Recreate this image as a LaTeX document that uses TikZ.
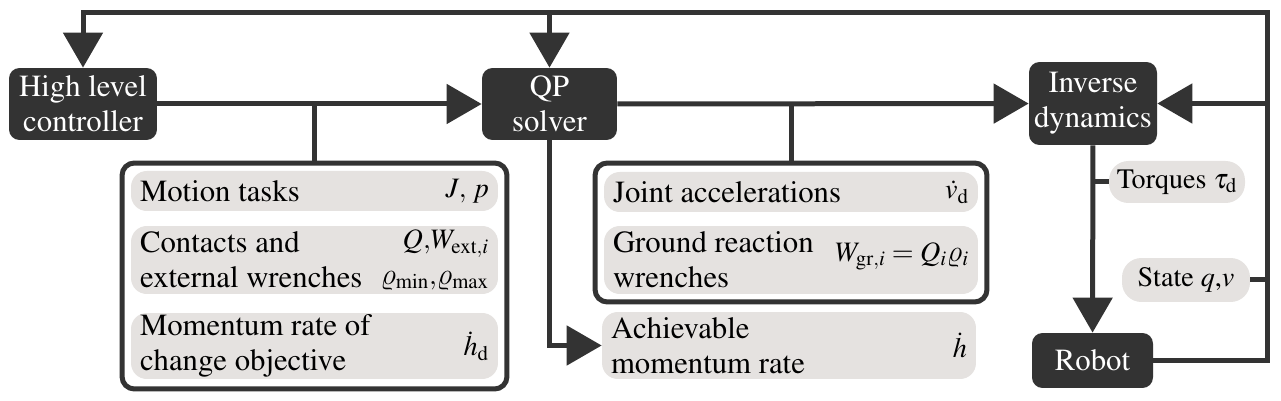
\documentclass[tikz,border=0pt]{standalone}
\usepackage{amsmath}
\usepackage[T1]{fontenc}
\usepackage{mathptmx}
\DeclareSymbolFont{cmletters}{OML}{cmm}{m}{it}
\DeclareMathSymbol{\curlyrho}{\mathord}{cmletters}{"25}
\usetikzlibrary{positioning, arrows.meta, calc}
\definecolor{colour_dark}{HTML}{333333}
\definecolor{colour_pill}{HTML}{E5E2E0}

\begin{document}
\begin{tikzpicture}[
    x=0.02cm, y=-0.02cm,
    font=\fontsize{17.5}{20}\selectfont,
    block/.style={rectangle, fill=colour_dark, rounded corners=6pt,
                  text=white, align=center, inner sep=0pt},
    group/.style={rectangle, draw=colour_dark, line width=0.1cm, fill=white,
                  rounded corners=7pt, inner sep=0pt},
    pill/.style={rectangle, fill=colour_pill, rounded corners=9pt, inner sep=0pt},
    signal/.style={pill, rounded corners=11pt, font=\fontsize{16}{20}\selectfont},
    label/.style={anchor=west, align=left, inner sep=0pt},
    value/.style={anchor=east, align=right, inner sep=0pt,
                  font=\fontsize{16}{20}\selectfont},
    line/.style={colour_dark, line width=0.1cm},
    arrow/.style={line, -{Triangle[length=0.7cm, width=0.78cm]}}
]
\useasboundingbox (0,0) rectangle (1281,401);

% Main blocks
\node[block, minimum width=2.96cm, minimum height=1.44cm] (hlc) at (83,104) {High level\\controller};
\node[block, minimum width=2.7cm, minimum height=1.44cm] (qp) at (549.5,104) {QP\\solver};
\node[block, minimum width=2.56cm, minimum height=1.66cm] (id) at (1093,103.5) {Inverse\\dynamics};
\node[block, minimum width=2.42cm, minimum height=1.1cm] (robot) at (1092.5,360.5) {Robot};

% Inputs of the QP
\node[group, minimum width=7.7cm, minimum height=4.52cm] (tasks) at (314.5,276) {};
\node[pill, minimum width=7.34cm, minimum height=0.8cm] (motion) at (314.5,191) {};
\node[label] (motion_txt) at ($(motion.west)+(9,0)$) {Motion tasks};
\node[value] (motion_val) at ($(motion.east)+(-9,0)$) {$J,\,p$};
\node[pill, minimum width=7.34cm, minimum height=1.36cm] (contacts) at (314.5,260) {};
\node[label] (contacts_txt) at ($(contacts.west)+(9,0)$) {Contacts and\\external wrenches};
\node[value] (contacts_val) at ($(contacts.east)+(-9,0)$) {$Q{,}W_{\mathrm{ext},i}$\\$\curlyrho_{\min}{,}\curlyrho_{\max}$};
\node[pill, minimum width=7.34cm, minimum height=1.32cm] (rate) at (314.5,346) {};
\node[label] (rate_txt) at ($(rate.west)+(9,0)$) {Momentum rate of\\change objective};
\node[value] (rate_val) at ($(rate.east)+(-9,0)$) {$\dot{h}_{\mathrm{d}}$};

% Outputs of the QP
\node[group, minimum width=7.84cm, minimum height=2.78cm] (outputs) at (791,232.5) {};
\node[pill, minimum width=7.48cm, minimum height=0.8cm] (joint) at (791,192) {};
\node[label] (joint_txt) at ($(joint.west)+(9,0)$) {Joint accelerations};
\node[value] (joint_val) at ($(joint.east)+(-9,0)$) {$\dot{v}_{\mathrm{d}}$};
\node[pill, minimum width=7.48cm, minimum height=1.36cm] (ground) at (791,260) {};
\node[label] (ground_txt) at ($(ground.west)+(9,0)$) {Ground reaction\\wrenches};
\node[value] (ground_val) at ($(ground.east)+(-9,-4)$) {$W_{\mathrm{gr},i} = Q_i\curlyrho_i$};
\node[pill, minimum width=7.48cm, minimum height=1.34cm] (achieved) at (789,345.5) {};
\node[label] (achieved_txt) at ($(achieved.west)+(9,0)$) {Achievable\\momentum rate};
\node[value] (achieved_val) at ($(achieved.east)+(-9,0)$) {$\dot{h}$};

% Robot signals
\node[signal, minimum width=2.72cm, minimum height=0.84cm] (torques) at (1177,182) {Torques $\tau_{\mathrm{d}}$};
\node[signal, minimum width=2.56cm, minimum height=0.88cm] (state) at (1186,280) {State $q$,$v$};

% Connectors
\coordinate (corner) at (1267,13);
\draw[arrow] (hlc) -- (qp);
\draw[line] (tasks.north) -- (tasks.north |- hlc);
\draw[arrow] (qp) -- (id);
\draw[line] (outputs.north) -- (outputs.north |- qp);
\draw[arrow] (qp.south) |- (achieved.west);
\draw[arrow] (id) -- (robot);
\draw[line] (torques.west) -- (torques.west -| id);
\draw[line] (state.east) -- (state.east -| corner);

% Feedback loop
\draw[arrow] (robot.east) -- (robot.east -| corner) -- (corner) -| (hlc.north);
\draw[arrow] (qp.north |- corner) -- (qp.north);
\draw[arrow] (id.east -| corner) -- (id.east);

\end{tikzpicture}
\end{document}
